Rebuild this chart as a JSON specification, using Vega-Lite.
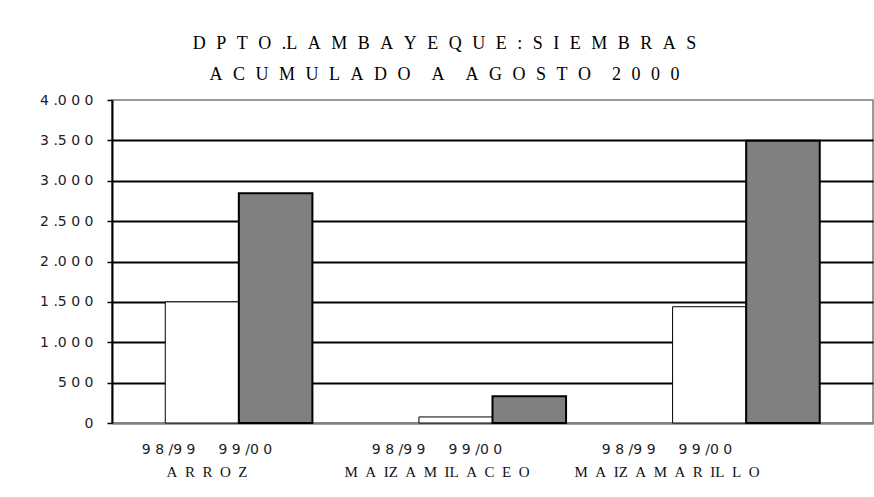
{
  "$schema": "https://vega.github.io/schema/vega-lite/v6.json",
  "width": 761,
  "height": 323,
  "autosize": {"type": "none"},
  "padding": {"left": 112, "top": 100, "right": 1, "bottom": 74},
  "background": "white",
  "config": {
    "view": {"stroke": "#999999", "strokeWidth": 2}
  },
  "title": {
    "text": [
      "D\u2002\u200aP\u2002\u200aT\u2002\u200aO\u2002\u200a.L\u2002\u200aA\u2002\u200aM\u2002\u200aB\u2002\u200aA\u2002\u200aY\u2002\u200aE\u2002\u200aQ\u2002\u200aU\u2002\u200aE\u2002\u200a:\u2002\u200aS\u2002\u200aI\u2002\u200aE\u2002\u200aM\u2002\u200aB\u2002\u200aR\u2002\u200aA\u2002\u200aS",
      "A\u2002\u200aC\u2002\u200aU\u2002\u200aM\u2002\u200aU\u2002\u200aL\u2002\u200aA\u2002\u200aD\u2002\u200aO\u2002\u200a\u2002\u200aA\u2002\u200a\u2002\u200aA\u2002\u200aG\u2002\u200aO\u2002\u200aS\u2002\u200aT\u2002\u200aO\u2002\u200a\u2002\u200a2\u2002\u200a0\u2002\u200a0\u2002\u200a0"
    ],
    "font": "Liberation Serif",
    "fontSize": 18,
    "fontWeight": "normal",
    "color": "black",
    "lineHeight": 31,
    "anchor": "middle",
    "offset": 9,
    "dx": -48
  },
  "data": {
    "values": [
      {"crop": "ARROZ", "period": "98/99", "ha": 1500},
      {"crop": "ARROZ", "period": "99/00", "ha": 2845},
      {"crop": "MAIZ AMILACEO", "period": "98/99", "ha": 75},
      {"crop": "MAIZ AMILACEO", "period": "99/00", "ha": 330},
      {"crop": "MAIZ AMARILLO", "period": "98/99", "ha": 1440},
      {"crop": "MAIZ AMARILLO", "period": "99/00", "ha": 3495}
    ]
  },
  "layer": [
    {
      "mark": {"type": "bar", "stroke": "black"},
      "encoding": {
        "x": {
          "field": "crop", "type": "nominal",
          "sort": ["ARROZ", "MAIZ AMILACEO", "MAIZ AMARILLO"],
          "scale": {"paddingInner": 0.42, "paddingOuter": 0.21},
          "axis": {"title": null, "labels": false, "ticks": false, "domainColor": "#808080", "domainWidth": 2.5}
        },
        "xOffset": {
          "field": "period", "type": "nominal",
          "scale": {"paddingInner": 0, "paddingOuter": 0}
        },
        "y": {
          "field": "ha", "type": "quantitative",
          "scale": {"domain": [0, 4000], "nice": false},
          "axis": {
            "title": null,
            "values": [0, 500, 1000, 1500, 2000, 2500, 3000, 3500, 4000],
            "labelExpr": "replace(replace(format(datum.value, ','), ',', '.'), regexp('([0-9])(?=.)', 'g'), '$1 ')",
            "labelFont": "DejaVu Sans",
            "labelFontSize": 14,
            "labelColor": "#222222",
            "labelPadding": 14,
            "domainColor": "black",
            "domainWidth": 2,
            "tickColor": "black",
            "tickSize": 5,
            "tickWidth": 1.5,
            "grid": true,
            "gridColor": {"condition": {"test": "datum.value == 0 || datum.value == 4000", "value": "transparent"}, "value": "black"},
            "gridWidth": 2
          }
        },
        "fill": {
          "field": "period", "type": "nominal",
          "scale": {"range": ["#ffffff", "#808080"]},
          "legend": null
        },
        "strokeWidth": {"condition": {"test": "datum.period === '99/00'", "value": 2}, "value": 1}
      }
    },
    {
      "mark": {"type": "text", "font": "DejaVu Sans", "fontSize": 14, "color": "#222222", "align": "center", "baseline": "alphabetic", "dy": 31, "dx": -20},
      "encoding": {
        "x": {
          "field": "crop", "type": "nominal",
          "sort": ["ARROZ", "MAIZ AMILACEO", "MAIZ AMARILLO"],
          "scale": {"type": "band", "paddingInner": 0, "paddingOuter": 0.1543, "align": 0},
          "axis": null
        },
        "xOffset": {
          "field": "period", "type": "nominal",
          "scale": {"type": "point", "padding": 1.013}
        },
        "y": {"datum": 0, "type": "quantitative"},
        "text": {"condition": {"test": "datum.period === '98/99'", "value": "9 8 /9 9"}, "value": "9 9 /0 0"}
      }
    },
    {
      "transform": [{"filter": "datum.period === '98/99'"}],
      "mark": {"type": "text", "font": "Liberation Serif", "fontSize": 15, "color": "#111111", "align": "center", "baseline": "alphabetic", "dy": 54, "dx": -20},
      "encoding": {
        "x": {
          "field": "crop", "type": "nominal",
          "sort": ["ARROZ", "MAIZ AMILACEO", "MAIZ AMARILLO"],
          "scale": {"type": "band", "paddingInner": 0, "paddingOuter": 0.1543, "align": 0},
          "axis": null
        },
        "y": {"datum": 0, "type": "quantitative"},
        "text": {
          "condition": [
            {"test": "datum.crop === 'ARROZ'", "value": "A\u2002R\u2002R\u2002O\u2002Z"},
            {"test": "datum.crop === 'MAIZ AMILACEO'", "value": "M\u2002A\u2002IZ\u2002A\u2002M\u2002IL\u2002A\u2002C\u2002E\u2002O"}
          ],
          "value": "M\u2002A\u2002IZ\u2002A\u2002M\u2002A\u2002R\u2002IL\u2002L\u2002O"
        }
      }
    }
  ],
  "resolve": {"scale": {"x": "independent", "xOffset": "independent"}}
}
